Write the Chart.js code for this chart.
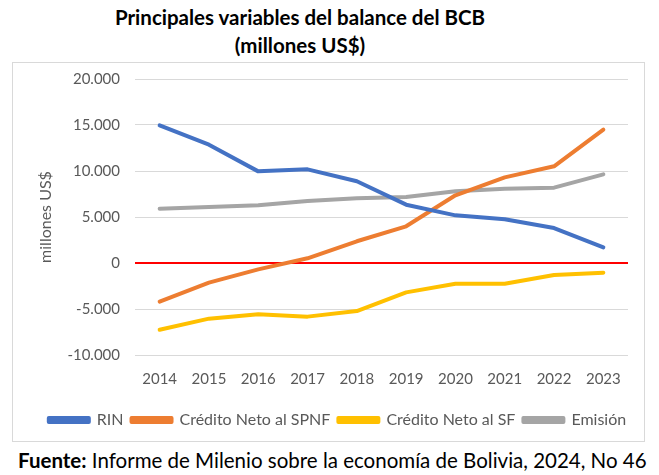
<!DOCTYPE html>
<html>
<head>
<meta charset="utf-8">
<script src="https://cdn.jsdelivr.net/npm/chart.js@4.4.1/dist/chart.umd.min.js"></script>
<style>
    body { margin: 0; background: #fff; font-family: Lato, 'Open Sans', sans-serif; }
    #wrap { position: relative; width: 659px; height: 475px; }
    #title { position: absolute; left: 0; top: 3px; width: 600px; text-align: center; font-weight: bold; font-size: 20.5px; line-height: 28px; color: #000; }
    #box { position: absolute; left: 12px; top: 62px; width: 631px; height: 378px; border: 1px solid #d9d9d9; }
    #footer { position: absolute; left: 18px; top: 448px; font-size: 20.5px; color: #000; white-space: nowrap; }
</style>
</head>
<body>
<div id="wrap">
    <div id="title">Principales variables del balance del BCB<br>(millones US$)</div>
    <div id="box"><canvas id="linechart" width="631" height="378"></canvas></div>
    <div id="footer"><b>Fuente:</b> Informe de Milenio sobre la economía de Bolivia, 2024, No 46</div>
</div>
<script>
// Datos (millones US$)
const years = ['2014', '2015', '2016', '2017', '2018', '2019', '2020', '2021', '2022', '2023'];
const rin = [14960, 12860, 9960, 10180, 8880, 6340, 5180, 4750, 3800, 1700];
const creditoSPNF = [-4200, -2140, -690, 510, 2360, 3990, 7360, 9310, 10510, 14490];
const creditoSF = [-7250, -6050, -5580, -5830, -5220, -3190, -2250, -2250, -1300, -1050];
const emision = [5910, 6090, 6270, 6740, 7030, 7170, 7790, 8080, 8190, 9640];
const yTicks = [-10000, -5000, 0, 5000, 10000, 15000, 20000];

const tickColor = '#595959';
const font = 'Lato';

function serie(label, data, color) {
    return {
        label: label,
        data: data,
        borderColor: color,
        backgroundColor: color,
        borderWidth: 4,
        borderCapStyle: 'round',
        borderJoinStyle: 'round',
        pointRadius: 0,
        tension: 0
    };
}

// Formato con punto de miles: 20.000
function formatNum(v) {
    const s = Math.abs(v).toString().replace(/\B(?=(\d{3})+(?!\d))/g, '.');
    return (v < 0 ? '-' : '') + s;
}

// Desplaza la leyenda un poco a la derecha, como en el original
const legendShift = {
    id: 'legendShift',
    afterLayout(chart) {
        if (chart.legend) {
            chart.legend.left += 17;
            chart.legend.right += 17;
        }
    }
};

const ctx = document.getElementById('linechart').getContext('2d');
new Chart(ctx, {
    type: 'line',
    data: {
        labels: years,
        datasets: [
            serie('RIN', rin, '#4472C4'),
            serie('Crédito Neto al SPNF', creditoSPNF, '#ED7D31'),
            serie('Crédito Neto al SF', creditoSF, '#FFC000'),
            serie('Emisión', emision, '#A5A5A5')
        ]
    },
    options: {
        responsive: false,
        animation: false,
        layout: { padding: { top: 16, right: 16, left: 0, bottom: 3 } },
        scales: {
            x: {
                offset: true,
                grid: { display: false, drawTicks: false },
                border: { display: false },
                ticks: { color: tickColor, font: { family: font, size: 15 }, padding: 15, maxRotation: 0 },
                afterFit: function(scale) { scale.height = 49; scale.paddingLeft = 0; scale.paddingRight = 0; }
            },
            y: {
                min: -10000,
                max: 20000,
                afterBuildTicks: function(scale) {
                    scale.ticks = yTicks.map(v => ({ value: v }));
                },
                grid: {
                    drawTicks: false,
                    color: c => c.tick && c.tick.value === 0 ? '#FF0000' : '#d9d9d9',
                    lineWidth: c => c.tick && c.tick.value === 0 ? 2 : 1
                },
                border: { display: false },
                ticks: {
                    color: tickColor,
                    font: { family: font, size: 15 },
                    padding: 15,
                    callback: function(value) { return formatNum(value); }
                },
                title: {
                    display: true,
                    text: 'millones US$',
                    color: tickColor,
                    font: { family: font, size: 16 },
                    padding: { top: 23, bottom: 0 }
                },
                afterFit: function(scale) { scale.width = 122; scale.paddingTop = 0; scale.paddingBottom = 0; }
            }
        },
        plugins: {
            legend: {
                position: 'bottom',
                labels: {
                    color: tickColor,
                    font: { family: font, size: 16 },
                    boxWidth: 40,
                    boxHeight: 4,
                    padding: 8
                }
            },
            tooltip: { enabled: false }
        }
    },
    plugins: [legendShift]
});
</script>
</body>
</html>
